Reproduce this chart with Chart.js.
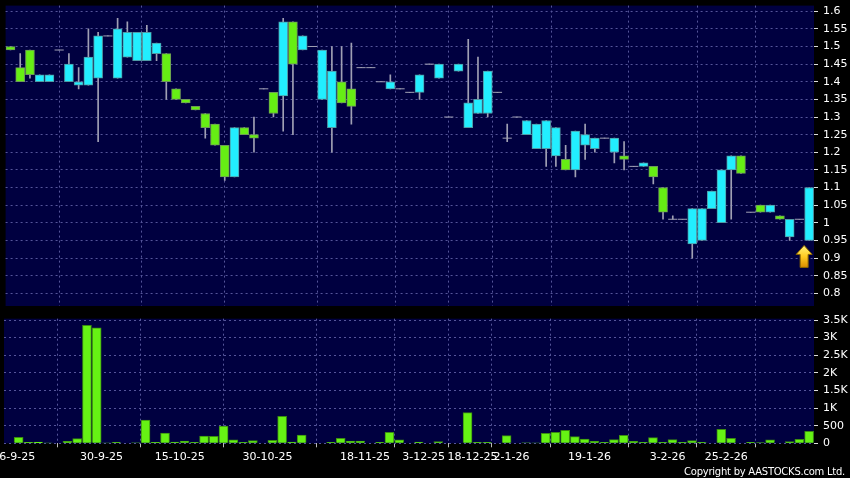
<!DOCTYPE html>
<html><head><meta charset="utf-8">
<script src="https://cdn.jsdelivr.net/npm/chart.js@4.4.1/dist/chart.umd.min.js"></script>
<style>
html,body{margin:0;padding:0;background:#000;}
#wrap{position:relative;width:850px;height:478px;overflow:hidden;background:#000;}
#pc{position:absolute;left:0;top:0;}
#vc{position:absolute;left:0;top:312px;}
#copy{position:absolute;right:5px;top:464px;font:10px "DejaVu Sans",sans-serif;letter-spacing:-0.25px;color:#fff;line-height:16px;white-space:nowrap;}
</style></head><body>
<div id="wrap">
<canvas id="pc" width="850" height="312"></canvas>
<canvas id="vc" width="850" height="166"></canvas>
<div id="copy">Copyright by AASTOCKS.com Ltd.</div>
</div>
<script>
// ---- data ----
const openP = [1.50,1.44,1.49,1.40,1.40,1.49,1.40,1.39,1.39,1.41,
1.53,1.41,1.47,1.46,1.46,1.48,1.48,1.38,1.35,1.33,
1.31,1.28,1.22,1.13,1.27,1.25,1.38,1.37,1.36,1.57,
1.49,1.50,1.35,1.27,1.40,1.38,1.44,1.44,1.40,1.38,
1.38,1.37,1.37,1.45,1.41,1.30,1.43,1.27,1.31,1.31,
1.37,1.24,1.30,1.25,1.21,1.21,1.19,1.18,1.15,1.22,
1.21,1.24,1.20,1.19,1.16,1.16,1.16,1.10,1.01,1.01,
0.94,0.95,1.04,1.00,1.15,1.19,1.03,1.05,1.03,1.02,
0.96,1.01,0.95];
const highP = [1.50,1.48,1.49,1.42,1.42,1.49,1.48,1.44,1.55,1.54,
1.53,1.58,1.57,1.54,1.56,1.51,1.48,1.38,1.35,1.33,
1.31,1.28,1.22,1.27,1.27,1.30,1.38,1.37,1.58,1.57,
1.53,1.50,1.49,1.50,1.50,1.51,1.44,1.44,1.40,1.42,
1.38,1.37,1.42,1.45,1.45,1.30,1.45,1.52,1.47,1.43,
1.37,1.28,1.30,1.29,1.28,1.29,1.27,1.22,1.26,1.28,
1.24,1.24,1.24,1.23,1.16,1.17,1.16,1.10,1.02,1.01,
1.04,1.04,1.09,1.15,1.19,1.19,1.03,1.05,1.05,1.02,
1.01,1.01,1.10];
const lowP = [1.49,1.40,1.41,1.40,1.40,1.49,1.40,1.38,1.39,1.23,
1.53,1.41,1.47,1.46,1.46,1.46,1.35,1.35,1.34,1.32,
1.24,1.22,1.12,1.13,1.25,1.20,1.38,1.30,1.26,1.25,
1.49,1.50,1.35,1.20,1.34,1.28,1.44,1.44,1.40,1.38,
1.38,1.37,1.35,1.45,1.41,1.30,1.43,1.27,1.31,1.30,
1.37,1.23,1.30,1.25,1.21,1.16,1.16,1.15,1.13,1.18,
1.20,1.24,1.17,1.15,1.16,1.16,1.11,1.01,1.01,1.01,
0.90,0.95,1.04,1.00,1.01,1.14,1.03,1.03,1.03,1.01,
0.95,1.01,0.95];
const closeP = [1.49,1.40,1.42,1.42,1.42,1.49,1.45,1.40,1.47,1.53,
1.53,1.55,1.54,1.54,1.54,1.51,1.40,1.35,1.34,1.32,
1.27,1.22,1.13,1.27,1.25,1.24,1.38,1.31,1.57,1.45,
1.53,1.50,1.49,1.43,1.34,1.33,1.44,1.44,1.40,1.40,
1.38,1.37,1.42,1.45,1.45,1.30,1.45,1.34,1.35,1.43,
1.37,1.24,1.30,1.29,1.28,1.29,1.27,1.15,1.26,1.25,
1.24,1.24,1.24,1.18,1.16,1.17,1.13,1.03,1.01,1.01,
1.04,1.04,1.09,1.15,1.19,1.14,1.03,1.03,1.05,1.01,
1.01,1.01,1.10];
const volume = [0,170,25,35,5,0,57,132,3346,3280,
5,28,0,15,662,25,293,38,66,28,
208,198,491,95,28,76,0,85,766,38,
236,0,0,28,142,66,66,0,28,312,
95,0,38,0,47,0,0,870,28,28,
0,217,0,15,5,284,312,369,189,123,
57,28,104,227,57,28,161,28,104,28,
76,28,0,397,142,0,28,19,95,0,
47,113,340];
const dateLabels = ['16-9-25','30-9-25','15-10-25','30-10-25','18-11-25','3-12-25','18-12-25','2-1-26','19-1-26','3-2-26','25-2-26'];
const dateIdx = [0,9,17,26,36,42,47,51,59,67,73];
const priceTicks = [0.8,0.85,0.9,0.95,1,1.05,1.1,1.15,1.2,1.25,1.3,1.35,1.4,1.45,1.5,1.55,1.6];
const volTicks = [0,500,1000,1500,2000,2500,3000,3500];
const volTickLabels = ['0','500','1K','1.5K','2K','2.5K','3K','3.5K'];
const arrowIdx = 82;

// ---- style ----
const CYAN='#22eeff', GREEN='#66ee14', NAVY='#000040', GRID='#55559a', WICK='#a0a0b4';
const FONT={family:'DejaVu Sans', size:11};
const N = closeP.length;
const idx = closeP.map((_,i)=>i);

const bgPlugin = { id:'bg', beforeDraw(c){ const {ctx, chartArea:a}=c; ctx.save(); ctx.fillStyle=NAVY; ctx.fillRect(a.left,a.top,a.right-a.left,a.bottom-a.top); ctx.restore(); } };

const arrowPlugin = { id:'arrow', afterDatasetsDraw(c){
  const x = c.scales.x.getPixelForValue(arrowIdx) - 5;
  const y = c.scales.y.getPixelForValue(lowP[arrowIdx]) + 5;
  const ctx=c.ctx; ctx.save();
  const g = ctx.createLinearGradient(0,y,0,y+22);
  g.addColorStop(0,'#fff47a'); g.addColorStop(0.5,'#ffcc22'); g.addColorStop(1,'#d98c00');
  ctx.beginPath(); ctx.moveTo(x,y); ctx.lineTo(x+8,y+9); ctx.lineTo(x+4,y+9); ctx.lineTo(x+4,y+22);
  ctx.lineTo(x-4,y+22); ctx.lineTo(x-4,y+9); ctx.lineTo(x-8,y+9); ctx.closePath();
  ctx.fillStyle=g; ctx.fill(); ctx.strokeStyle='#8a6400'; ctx.lineWidth=1; ctx.stroke(); ctx.restore();
}};

function xAxis(showLabels){
  return {
    type:'linear', min:-0.5, max:N-0.5, offset:false, bounds:'data',
    afterBuildTicks(s){ s.ticks = dateIdx.map(i=>({value:i+0.5})); },
    afterFit(s){ s.height = showLabels?34.7:0; s.paddingLeft=0; s.paddingRight=0; },
    ticks:{ display:showLabels, autoSkip:false, maxRotation:0, minRotation:0, padding:3, color:'#fff', font:FONT,
            callback:(v,i)=>dateLabels[i] },
    grid:{ color:GRID, drawTicks:showLabels, tickLength:4, tickColor:'#bbbbbb', tickBorderDash:[] },
    border:{ display:false, dash:[2,3] }
  };
}
function yAxis(min,max,tickVals,fmt){
  return {
    position:'right', min, max, bounds:'data',
    afterBuildTicks(s){ s.ticks = tickVals.map(v=>({value:v})); },
    afterFit(s){ s.width=36; s.paddingTop=0; s.paddingBottom=0; },
    ticks:{ color:'#fff', padding:5, font:FONT, callback:fmt },
    grid:{ color:GRID, tickColor:'#dddddd', tickLength:4, tickBorderDash:[] },
    border:{ display:false, dash:[2,3] }
  };
}

const wickData = idx.map(i=>({x:i, y:[lowP[i], highP[i]]}));
const bodyIdx = idx.filter(i=>openP[i]!==closeP[i]);
const bodyData = bodyIdx.map(i=>({x:i, y:[openP[i], closeP[i]]}));
const bodyFill = bodyIdx.map(i=> closeP[i]>openP[i]?CYAN:GREEN);
const bodyEdge = bodyIdx.map(i=> closeP[i]>openP[i]?'#4f9aa4':'#6e9a58');
const dojiIdx = idx.filter(i=>openP[i]===closeP[i]);
const dojiData = dojiIdx.map(i=>({x:i, y:closeP[i]}));

new Chart(document.getElementById('pc'), {
  type:'bar',
  data:{ datasets:[
    {type:'line', data:dojiData, showLine:false, pointStyle:'line', pointRadius:4.6, pointHoverRadius:4.6,
     borderColor:WICK, pointBorderColor:WICK, pointBorderWidth:1, order:0},
    {type:'bar', data:bodyData, backgroundColor:bodyFill, borderColor:bodyEdge, borderWidth:1, borderSkipped:false,
     barThickness:9, grouped:false, order:1},
    {type:'bar', data:wickData, backgroundColor:WICK, borderWidth:0, barThickness:1, grouped:false, order:2}
  ]},
  options:{
    responsive:false, animation:false, devicePixelRatio:1,
    layout:{ padding:{left:4, top:5, right:0, bottom:6} },
    plugins:{ legend:{display:false}, tooltip:{enabled:false} },
    scales:{ x:xAxis(false), y:yAxis(0.764, 1.616, priceTicks, v=>String(+(+v).toFixed(2))) }
  },
  plugins:[bgPlugin, arrowPlugin]
});

new Chart(document.getElementById('vc'), {
  type:'bar',
  data:{ datasets:[
    {data: idx.map(i=>({x:i, y:volume[i]})), backgroundColor:'#66f214', borderColor:'#3a8c10', borderWidth:1,
     borderSkipped:'start', barThickness:9, grouped:false}
  ]},
  options:{
    responsive:false, animation:false, devicePixelRatio:1,
    layout:{ padding:{left:4, top:6.7, right:0, bottom:0} },
    plugins:{ legend:{display:false}, tooltip:{enabled:false} },
    scales:{ x:xAxis(true), y:yAxis(0, 3537, volTicks, (v,i)=>volTickLabels[i]) }
  },
  plugins:[bgPlugin]
});
</script>
</body></html>
